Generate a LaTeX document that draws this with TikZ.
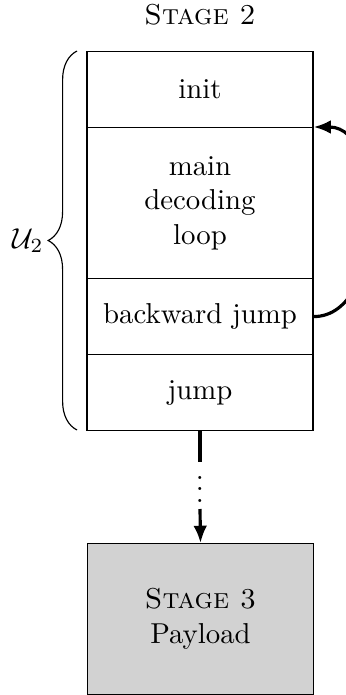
\documentclass[tikz,border=0pt]{standalone}
\usetikzlibrary{arrows.meta,decorations.pathreplacing}
\begin{document}
\begin{tikzpicture}[x=0.3472pt,y=-0.3472pt,
  row/.style={draw=black,line width=0.4pt,minimum width=78.5pt,inner sep=0pt,align=center,anchor=north},
  arr/.style={line width=1.1pt,-{Latex[length=6pt,width=4.8pt]}},
  bar/.style={line width=1.1pt}]
\useasboundingbox (0,0) rectangle (346,695);
\node (title) at (200,15) {\textsc{Stage 2}};
\node[row,minimum height=26.4pt] (init) at (200,51) {init};
\node[row,minimum height=52.4pt] (main) at (200,127) {main\\decoding\\loop};
\node[row,minimum height=26.4pt] (bj) at (200,278) {backward jump};
\node[row,minimum height=26.4pt] (jump) at (200,354) {jump};
\node[row,minimum height=52.4pt,fill=gray!35] (s3) at (200.5,543) {\textsc{Stage 3}\\Payload};
\draw[decorate,decoration={brace,amplitude=10pt},line width=0.4pt] (77,430) -- (77,51) node[midway,xshift=-17pt] (u) {$\mathcal{U}_2$};
\draw[arr] (bj.east) to[out=0,in=0] (main.north east);
\coordinate (c1) at (200,462);
\coordinate (c2) at (200,509);
\node[inner sep=0pt,anchor=south] (dots) at (200,503) {$\vdots$};
\draw[bar] (jump.south) -- (c1);
\draw[arr] (c2) -- (s3.north);
\end{tikzpicture}
\end{document}
